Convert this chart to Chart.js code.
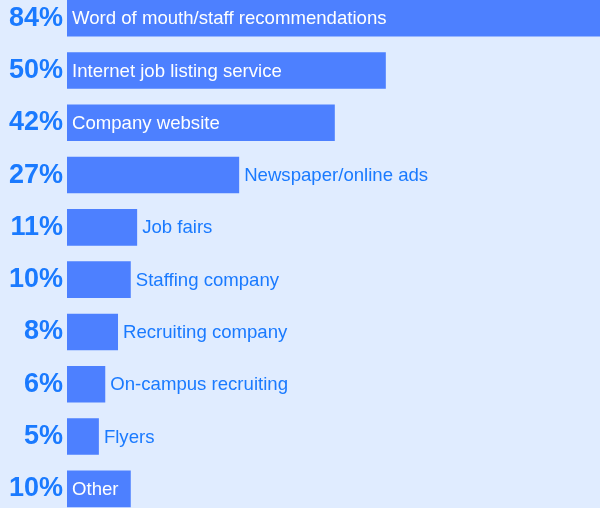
<!DOCTYPE html>
<html>
<head>
<meta charset="utf-8">
<script src="https://cdn.jsdelivr.net/npm/chart.js@4/dist/chart.umd.min.js"></script>
<style>
  html, body { margin: 0; padding: 0; background: #e0ecff; overflow: hidden; width: 600px; height: 508px; }
  #wrap { position: absolute; left: 0; top: -8px; width: 609px; height: 523px; }
</style>
</head>
<body>
<div id="wrap"><canvas id="sourcesChart"></canvas></div>
<script>
"use strict";

const categories = [
    'Word of mouth/staff recommendations',
    'Internet job listing service',
    'Company website',
    'Newspaper/online ads',
    'Job fairs',
    'Staffing company',
    'Recruiting company',
    'On-campus recruiting',
    'Flyers',
    'Other'
];
const values = [84, 50, 42, 27, 11, 10, 8, 6, 5, 10];

const FONT = 'Arial, "Liberation Sans", Helvetica, sans-serif';
const BAR = '#4d80ff';
const TEXT_BLUE = '#1a7aff';

// category name inside the bar if it fits, otherwise just after it
const barLabels = {
    id: 'barLabels',
    afterDatasetsDraw(chart) {
        const ctx = chart.ctx;
        const meta = chart.getDatasetMeta(0);
        ctx.save();
        ctx.font = '18.6px ' + FONT;
        ctx.textBaseline = 'middle';
        ctx.textAlign = 'left';
        meta.data.forEach((bar, i) => {
            const name = categories[i];
            const w = ctx.measureText(name).width;
            const barW = bar.x - bar.base;
            if (w + 10 < barW) {
                ctx.fillStyle = '#ffffff';
                ctx.fillText(name, bar.base + 5, bar.y + 1);
            } else {
                ctx.fillStyle = TEXT_BLUE;
                ctx.fillText(name, bar.x + 5, bar.y + 1);
            }
        });
        ctx.restore();
    }
};

new Chart(document.getElementById('sourcesChart'), {
    type: 'bar',
    data: {
        labels: categories,
        datasets: [{
            data: values,
            backgroundColor: BAR,
            borderWidth: 0,
            barPercentage: 0.7,
            categoryPercentage: 1
        }]
    },
    options: {
        indexAxis: 'y',
        responsive: true,
        maintainAspectRatio: false,
        animation: false,
        layout: { padding: 0 },
        plugins: {
            legend: { display: false },
            tooltip: { enabled: false }
        },
        scales: {
            x: {
                display: false,
                min: 0,
                max: 85
            },
            y: {
                grid: { display: false, drawTicks: false },
                border: { display: false },
                afterFit(scale) {
                    scale.width = 67;
                    scale.paddingTop = 0;
                    scale.paddingBottom = 0;
                },
                ticks: {
                    padding: 4,
                    color: TEXT_BLUE,
                    font: { family: FONT, size: 27, weight: 'bold' },
                    callback: (value, index) => values[index] + '%'
                }
            }
        }
    },
    plugins: [barLabels]
});
</script>
</body>
</html>
